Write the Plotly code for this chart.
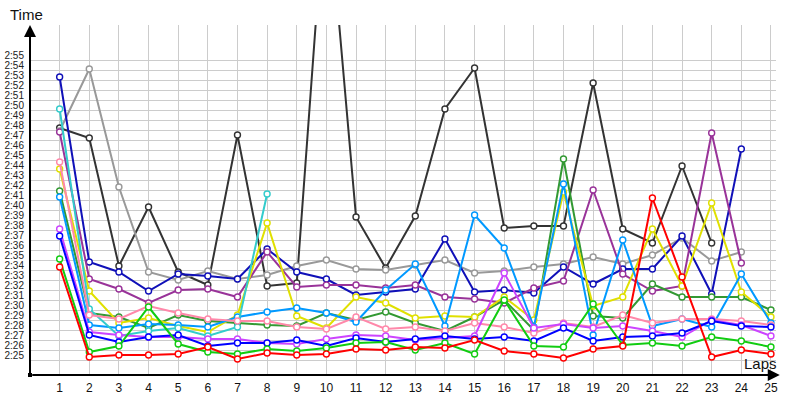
import plotly.graph_objects as go

laps = list(range(1, 26))

# lap times in seconds (2:25 = 145 s)
red = [154.3,145.3,145.5,145.5,145.6,146.3,145.1,145.7,145.5,145.6,146.1,146.0,146.3,146.2,147.0,145.9,145.6,145.2,146.1,146.4,161.2,153.3,145.3,146.0,145.6]
green = [155.1,145.8,146.4,150.3,146.6,145.8,145.6,146.1,145.9,146.2,146.7,146.8,146.0,146.7,145.6,151.0,146.4,146.3,150.6,146.5,146.7,146.4,147.3,146.9,146.3]
blue = [157.4,147.5,146.8,147.3,147.5,146.4,146.7,146.7,147.0,146.4,147.2,146.8,147.1,147.4,147.1,147.3,146.9,148.2,146.9,147.3,147.4,147.7,148.9,148.4,148.3]
violet = [158.1,147.8,147.5,147.3,147.3,147.1,147.1,146.7,146.6,147.1,147.5,147.4,147.0,147.2,147.4,153.7,148.2,148.6,148.2,148.4,147.9,147.3,149.0,148.5,147.4]
pink = [164.8,149.5,149.1,150.4,149.7,149.1,148.9,148.9,148.3,148.1,149.3,148.1,148.3,147.9,148.7,148.3,147.7,148.7,148.3,149.5,148.7,149.1,149.1,148.9,148.5]
purple = [167.8,153.1,152.1,150.7,152.0,152.1,151.3,155.8,152.3,152.5,152.5,152.2,152.5,151.3,151.1,150.7,152.2,152.9,162.0,153.6,151.9,152.4,167.7,154.7,None]
cyan = [170.1,150.1,147.4,147.9,148.2,147.4,148.3,161.6] + [None]*17
lightblue = [161.3,148.5,148.2,148.6,148.5,148.3,149.3,149.8,150.2,149.7,148.8,152.0,154.6,148.4,159.5,156.2,148.3,162.6,147.5,157.0,148.4,149.1,148.3,153.6,148.7]
yellow = [164.1,151.9,148.7,149.2,148.4,147.8,149.5,158.7,149.4,148.2,151.3,150.7,149.2,149.4,149.3,151.3,149.0,161.8,150.4,151.3,158.1,152.4,160.7,151.8,149.3]
darkgreen = [161.9,149.7,149.3,148.2,149.5,148.9,148.7,148.5,148.4,149.7,149.0,149.8,148.7,147.9,149.3,151.0,148.0,165.1,149.4,149.2,152.6,151.3,151.3,151.3,150.0]
navy = [173.3,154.8,153.8,151.9,153.6,153.4,153.1,156.1,153.8,153.1,151.5,151.8,152.1,157.1,151.8,152.0,151.7,154.3,152.6,154.1,154.1,157.4,151.6,166.1,None]
gray = [167.9,174.1,162.3,153.8,153.0,153.9,153.1,153.5,154.4,155.0,154.1,154.0,154.5,155.0,153.7,153.9,154.3,154.6,155.3,154.6,155.5,157.2,154.9,155.8,None]
black = [168.2,167.2,154.4,160.3,153.8,152.5,167.5,152.4,152.7,193.2,159.3,154.2,159.4,170.1,174.2,158.2,158.4,158.4,172.7,158.1,156.7,164.4,156.7,None,None]

series = [
    ("black", black, "#333333"),
    ("gray", gray, "#999999"),
    ("navy", navy, "#1010b8"),
    ("purple", purple, "#993399"),
    ("darkgreen", darkgreen, "#339933"),
    ("yellow", yellow, "#e0e000"),
    ("lightblue", lightblue, "#0099ff"),
    ("cyan", cyan, "#33cccc"),
    ("pink", pink, "#ff88aa"),
    ("violet", violet, "#cc44ff"),
    ("blue", blue, "#0000ff"),
    ("green", green, "#11cc11"),
    ("red", red, "#ff0000"),
]

tick_vals = list(range(145, 176))
tick_text = ["2:%02d" % (v - 120) for v in tick_vals]

fig = go.Figure()
for name, vals, col in series:
    fig.add_trace(go.Scatter(
        x=laps, y=vals, name=name, mode="lines+markers",
        line=dict(color=col, width=2),
        marker=dict(symbol="circle", size=6, color="white", line=dict(color=col, width=1.4)),
        connectgaps=False,
    ))

font = "Liberation Sans, Arial, sans-serif"
fig.update_layout(
    width=800, height=400,
    margin=dict(l=30, r=24, t=25, b=25, autoexpand=False),
    paper_bgcolor="white", plot_bgcolor="white",
    showlegend=False,
    font=dict(family=font, color="#222"),
    xaxis=dict(range=[0, 25.17], tickmode="array", tickvals=laps, automargin=False,
               showgrid=True, gridcolor="#cccccc", gridwidth=1,
               zeroline=False, showline=False, ticks="",
               tickfont=dict(size=12, color="#111"), ticklabelstandoff=4),
    yaxis=dict(range=[143.5, 178.5], tickmode="array", tickvals=tick_vals, ticktext=tick_text,
               automargin=False,
               showgrid=True, gridcolor="#cccccc", gridwidth=1,
               zeroline=False, showline=False, ticks="",
               tickfont=dict(size=10, color="#222"), ticklabelshift=-5, ticklabelstandoff=5),
    shapes=[
        dict(type="rect", xref="paper", yref="paper", xsizemode="pixel", ysizemode="pixel",
             xanchor=0, yanchor=0, x0=-2, x1=2, y0=-2, y1=2,
             fillcolor="black", line=dict(width=0)),
    ],
    annotations=[
        dict(xref="paper", yref="paper", x=0, y=1.0, ax=0, ay=350, axref="pixel", ayref="pixel",
             text="", showarrow=True, arrowhead=2, arrowsize=1.2, arrowwidth=2, arrowcolor="black"),
        dict(xref="paper", yref="paper", x=1.005, y=0, ax=-749, ay=0,
             text="", showarrow=True, arrowhead=2, arrowsize=1.2, arrowwidth=2, arrowcolor="black"),
        dict(xref="paper", yref="paper", x=-0.03, y=1.03, xanchor="left", yanchor="middle",
             text="Time", showarrow=False, font=dict(size=15, color="#111", family=font)),
        dict(xref="paper", yref="paper", x=0.955, y=0.003, xanchor="left", yanchor="bottom",
             text="Laps", showarrow=False, font=dict(size=15, color="#111", family=font)),
    ],
)

fig.write_html("out.html", config={"displayModeBar": False},
               post_script="document.body.style.margin='0';document.body.style.overflow='hidden';")
